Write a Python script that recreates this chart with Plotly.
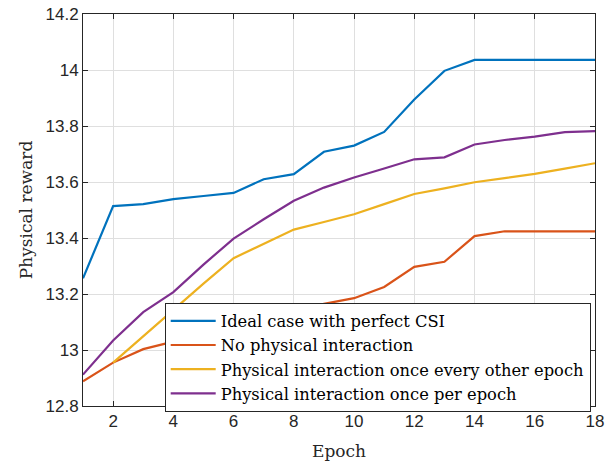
import plotly.graph_objects as go

epochs = list(range(1, 19))
ideal = [13.256, 13.514, 13.521, 13.539, 13.550, 13.561, 13.610, 13.628, 13.708,
         13.730, 13.779, 13.895, 13.997, 14.036, 14.036, 14.036, 14.036, 14.036]
no_phys = [12.888, 12.955, 13.003, 13.030, 13.060, 13.090, 13.115, 13.140, 13.165,
           13.185, 13.225, 13.297, 13.315, 13.407, 13.424, 13.424, 13.424, 13.424]
every_other = [None, 12.955, 13.050, 13.145, 13.237, 13.328, 13.380, 13.430, 13.457,
               13.485, 13.521, 13.557, 13.577, 13.599, 13.614, 13.629, 13.648, 13.667]
per_epoch = [12.912, 13.034, 13.135, 13.207, 13.305, 13.398, 13.467, 13.533, 13.580,
             13.616, 13.648, 13.681, 13.688, 13.734, 13.750, 13.762, 13.778, 13.782]

names = ["Ideal case with perfect CSI", "No physical interaction",
         "Physical interaction once every other epoch", "Physical interaction once per epoch"]
colors = ["#0072BD", "#D95319", "#EDB120", "#7E2F8E"]
series = [ideal, no_phys, every_other, per_epoch]

SERIF = "DejaVu Serif"

fig = go.Figure()
for n, c, s in zip(names, colors, series):
    fig.add_trace(go.Scatter(x=epochs, y=s, mode="lines", name=n,
                             line=dict(color=c, width=2.2)))

axis_common = dict(showline=True, linecolor="#262626", linewidth=1, mirror="ticks",
                   ticks="inside", ticklen=5, tickcolor="#262626", automargin=False,
                   showgrid=True, gridcolor="#dfdfdf", gridwidth=1, zeroline=False,
                   tickfont=dict(family="Liberation Sans", size=17, color="#262626"))

fig.update_layout(
    width=614, height=464,
    margin=dict(l=83, r=19, t=14, b=58),
    paper_bgcolor="white", plot_bgcolor="white",
    xaxis=dict(range=[1, 18], tickvals=list(range(2, 19, 2)),
               title=dict(text="Epoch", font=dict(family=SERIF, size=17, color="#262626"), standoff=14),
               **axis_common),
    yaxis=dict(range=[12.8, 14.2], tickvals=[12.8, 13, 13.2, 13.4, 13.6, 13.8, 14, 14.2],
               ticktext=["12.8", "13", "13.2", "13.4", "13.6", "13.8", "14", "14.2"],
               title=dict(text="Physical reward", font=dict(family=SERIF, size=17, color="#262626"), standoff=8),
               **axis_common),
    legend=dict(x=0.9916, xanchor="right", y=0.2635, yanchor="top",
                bordercolor="#262626", borderwidth=1, bgcolor="white",
                font=dict(family=SERIF, size=16.3, color="black"),
                itemwidth=45, tracegroupgap=0),
    showlegend=True,
)

fig.write_html("out.html")
